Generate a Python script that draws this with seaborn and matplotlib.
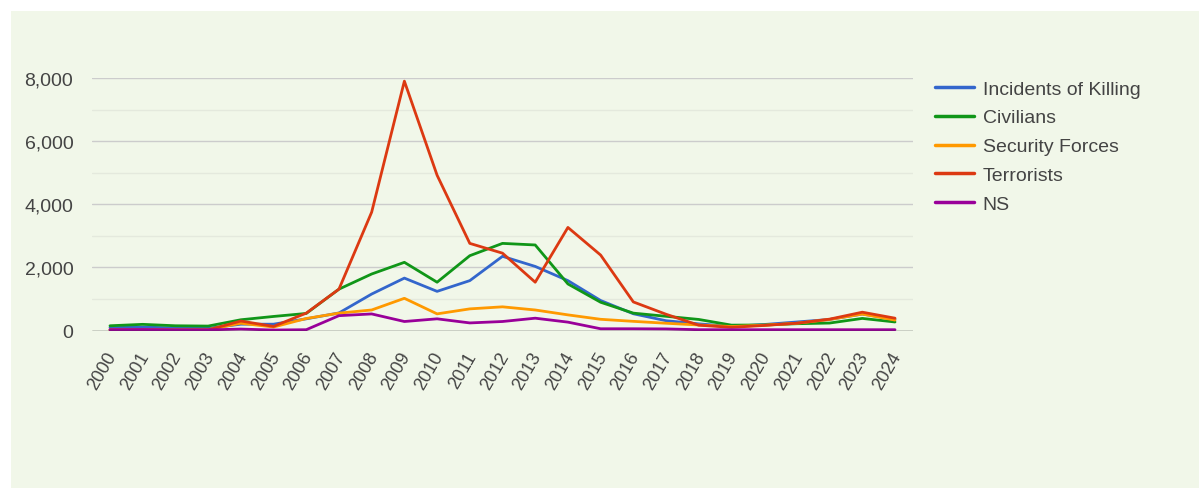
import numpy as np
import pandas as pd
import matplotlib
matplotlib.use("Agg")
import matplotlib.pyplot as plt
import matplotlib.transforms as mtransforms
import seaborn as sns
from matplotlib.patches import Rectangle

years = list(range(2000, 2025))
incidents = [90, 110, 80, 70, 200, 200, 370, 556, 1155, 1660, 1240, 1580, 2350,
             2030, 1580, 950, 530, 310, 210, 130, 190, 270, 350, 520, 360]
civilians = [150, 195, 150, 140, 340, 445, 540, 1310, 1790, 2160, 1530, 2370, 2760,
             2710, 1475, 895, 550, 450, 350, 170, 175, 215, 236, 383, 270]
security_forces = [25, 30, 20, 25, 230, 110, 380, 550, 650, 1020, 527, 685, 750,
                   650, 495, 355, 290, 230, 175, 126, 168, 230, 350, 520, 330]
terrorists = [15, 20, 15, 20, 300, 130, 550, 1310, 3750, 7900, 4920, 2760, 2450,
              1530, 3265, 2390, 905, 515, 168, 100, 160, 230, 360, 580, 390]
ns = [25, 30, 20, 20, 45, 15, 25, 470, 525, 285, 370, 240, 285,
      390, 265, 55, 55, 50, 25, 25, 25, 25, 25, 25, 25]

series_names = ["Incidents of Killing", "Civilians", "Security Forces", "Terrorists", "NS"]
series_values = [incidents, civilians, security_forces, terrorists, ns]
colors = ["#3366cc", "#109618", "#ff9900", "#dc3912", "#990099"]
y_ticks = [0, 2000, 4000, 6000, 8000]

df = pd.DataFrame({
    "Year": np.tile(years, len(series_names)),
    "Value": np.concatenate(series_values),
    "Series": np.repeat(series_names, len(years)),
})

sns.set_theme(style="white")
plt.rcParams["font.family"] = ["Liberation Sans", "DejaVu Sans"]

W, H = 1199, 489
fig = plt.figure(figsize=(W / 100, H / 100), dpi=100, facecolor="white")
bg = "#f1f7e9"
fig.patches.append(Rectangle((11 / W, 0), 1 - 11 / W, 1 - 12 / H,
                             transform=fig.transFigure, facecolor=bg,
                             edgecolor="none", zorder=-10))

ax_left, ax_right = 92 / W, 913 / W
ax_bottom = (H - 331.5) / H
ax_top = (H - 79) / H
ax = fig.add_axes([ax_left, ax_bottom, ax_right - ax_left, ax_top - ax_bottom])
ax.set_facecolor("none")
ax.set_zorder(1)

sns.lineplot(data=df, x="Year", y="Value", hue="Series", hue_order=series_names,
             palette=colors, linewidth=2.0, ax=ax, legend=True, zorder=3)

ax.set_xlim(1999.45, 2024.55)
ax.set_ylim(0, 8000)

# gridlines
for v in range(1000, 8001, 1000):
    if v % 2000 == 0:
        ax.axhline(v, color="#cccccc", linewidth=1.0, zorder=1)
    else:
        ax.axhline(v, color="#e4e9dd", linewidth=1.0, zorder=1)
ax.axhline(0, color="#333333", linewidth=1.0, zorder=4)

for s in ax.spines.values():
    s.set_visible(False)

ax.set_yticks(y_ticks)
ax.set_yticklabels([f"{v:,}" for v in y_ticks])
ax.set_xticks(years)
ax.set_xticklabels([str(y) for y in years], rotation=60, ha="right",
                   rotation_mode="anchor")
ax.tick_params(axis="y", length=0, pad=13.5, labelsize=14, labelcolor="#444444")
ax.tick_params(axis="x", length=0, pad=13, labelsize=13, labelcolor="#444444")
offset = mtransforms.ScaledTranslation(-5 / 100, 0, fig.dpi_scale_trans)
for lbl in ax.get_xticklabels():
    lbl.set_transform(lbl.get_transform() + offset)
ax.set_xlabel("")
ax.set_ylabel("")

handles, labels = ax.get_legend_handles_labels()
ax.legend_.remove()
leg = fig.legend(handles, labels, loc="upper left",
                 bbox_to_anchor=(935 / W, 1 - 81 / H), frameon=False,
                 fontsize=14, handlelength=2.0, handletextpad=0.45,
                 labelspacing=0.58, borderpad=0, borderaxespad=0)
for t in leg.get_texts():
    t.set_color("#444444")
for l in leg.get_lines():
    l.set_linewidth(2.5)

fig.savefig("out.png", dpi=100, facecolor="white")
